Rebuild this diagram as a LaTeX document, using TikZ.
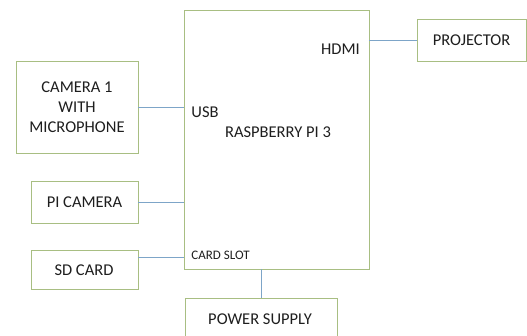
\documentclass[tikz,border=0pt]{standalone}
\usepackage{fontspec}
\setmainfont{Carlito}
\usetikzlibrary{calc}
\definecolor{boxline}{RGB}{168,190,130}
\definecolor{wire}{RGB}{125,165,200}
\definecolor{txt}{RGB}{30,30,30}
\tikzset{
  blk/.style={draw=boxline, line width=0.9pt, fill=white, inner sep=0pt, text=txt,
    font=\fontsize{16.5}{20}\selectfont, align=center},
  lbl/.style={inner sep=0pt, text=txt, font=\fontsize{16.5}{20}\selectfont},
  small/.style={inner sep=0pt, text=txt, font=\fontsize{13}{15}\selectfont},
  conn/.style={draw=wire, line width=0.9pt}
}
\begin{document}
\begin{tikzpicture}[x=1pt,y=-1pt]
\useasboundingbox (0,0) rectangle (527,336);
\node[blk, minimum width=185, minimum height=259] (rpi) at (276.5,139.5) {};
\node[blk, minimum width=122, minimum height=92] (cam) at (77,107) {CAMERA 1\\WITH\\MICROPHONE};
\node[blk, minimum width=109, minimum height=42] (proj) at (471.5,40) {PROJECTOR};
\node[blk, minimum width=107, minimum height=42] (picam) at (84.5,202) {PI CAMERA};
\node[blk, minimum width=107, minimum height=39] (sd) at (84.5,269.5) {};
\node[lbl] (sdtxt) at (84,270) {SD CARD};
\node[blk, minimum width=152, minimum height=50] (pwr) at (261,323) {};
\node[lbl] (pwrtxt) at (260,319) {POWER SUPPLY};
\node[lbl] (hdmi) at (340.5,49.5) {HDMI};
\node[lbl] (usb) at (205,112) {USB};
\node[lbl] (rname) at (278,132) {RASPBERRY PI 3};
\node[small] (slot) at (220.5,255) {CARD SLOT};
\draw[conn] (cam.east) -- (cam.east -| rpi.west);
\draw[conn] (picam.east) -- (picam.east -| rpi.west);
\coordinate (sdport) at ($(sd.north east)!0.2!(sd.south east)$);
\draw[conn] (sdport) -- (sdport -| rpi.west);
\draw[conn] (proj.west -| rpi.east) -- (proj.west);
\draw[conn] (rpi.south -| pwr.north) -- (pwr.north);
\end{tikzpicture}
\end{document}
